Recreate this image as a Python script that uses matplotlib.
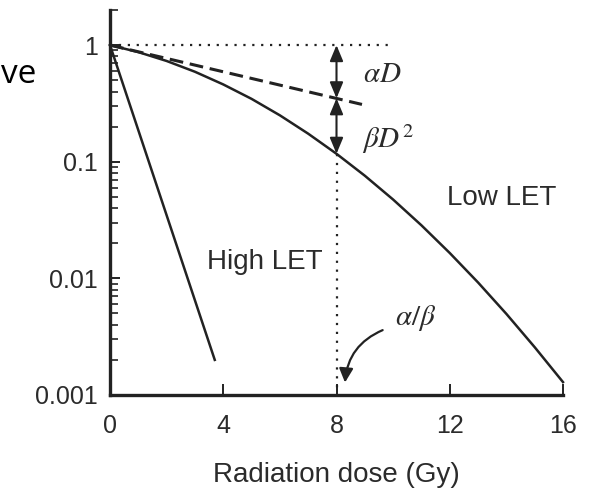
import numpy as np
import matplotlib
matplotlib.use("Agg")
import matplotlib.pyplot as plt
from matplotlib.ticker import FixedLocator, NullFormatter, LogLocator

plt.rcParams['font.family'] = ['Liberation Sans', 'DejaVu Sans']
plt.rcParams['mathtext.fontset'] = 'stix'

# survival curves (dose in Gy, surviving fraction)
dose_low = [0, 1, 2, 3, 4, 5, 6, 7, 8, 9, 10, 11, 12, 13, 14, 15, 16]
surv_low = [1.0, 0.871, 0.731, 0.591, 0.460, 0.346, 0.250, 0.174, 0.117,
            0.0759, 0.0474, 0.0285, 0.0165, 0.00922, 0.00496, 0.00257, 0.00129]

dose_high = [0, 3.7]
surv_high = [1.0, 0.002]

# initial slope (alpha component only)
dose_alpha = [0, 8.9]
surv_alpha = [1.0, 0.31]

# reference dose where alpha*D == beta*D^2
d_ref = 8
s_alpha_ref = 0.35
s_ref = 0.117
s_top = 1.0
s_bottom = 0.001
d_top_end = 9.9

xticks = [0, 4, 8, 12, 16]
yticks = [0.001, 0.01, 0.1, 1]
ylabels = ['0.001', '0.01', '0.1', '1']

ink = '#222222'
txt = '#2b2b2b'

fig = plt.figure(figsize=(5.98, 4.96), dpi=100)
ax = fig.add_axes([110/598, 1-395/496, (563-110)/598, (395-10)/496])

ax.plot(dose_low, surv_low, color=ink, lw=1.8, clip_on=False)
ax.plot(dose_high, surv_high, color=ink, lw=1.8, clip_on=False)
ax.plot(dose_alpha, surv_alpha, color=ink, lw=2.2, linestyle=(0, (4.5, 2.2)))
ax.plot([0, d_top_end], [s_top, s_top], color=ink, lw=1.6, linestyle=(0, (1, 3)))
ax.plot([d_ref, d_ref], [s_ref, s_bottom], color=ink, lw=1.6, linestyle=(0, (1, 3)))

arr = dict(arrowstyle='<|-|>,head_length=0.6,head_width=0.25', color=ink,
           lw=1.5, mutation_scale=16, shrinkA=0, shrinkB=0)
ax.annotate('', xy=(d_ref, s_top), xytext=(d_ref, s_alpha_ref), arrowprops=arr)
ax.annotate('', xy=(d_ref, s_alpha_ref), xytext=(d_ref, s_ref), arrowprops=arr)

ax.annotate('', xy=(8.3, 0.00128), xytext=(9.63, 0.0036),
            arrowprops=dict(arrowstyle='-|>,head_length=0.6,head_width=0.3',
                            color=ink, lw=1.6, mutation_scale=14,
                            shrinkA=0, shrinkB=0,
                            connectionstyle='arc3,rad=0.3'))

ax.text(8.95, 0.57, r'$\alpha D$', fontsize=21, color=txt, va='center', ha='left')
ax.text(8.9, 0.155, r'$\beta D^2$', fontsize=21, color=txt, va='center', ha='left')
ax.text(10.05, 0.0046, r'$\alpha/\beta$', fontsize=21, color=txt, va='center', ha='left')
ax.text(11.9, 0.049, 'Low LET', fontsize=20, color=txt, va='center', ha='left')
ax.text(3.43, 0.0138, 'High LET', fontsize=20, color=txt, va='center', ha='left')

ax.set_yscale('log')
ax.set_xlim(0, 16)
ax.set_ylim(0.001, 2.0)
ax.set_xticks(xticks)
ax.set_xticklabels([str(t) for t in xticks])
ax.yaxis.set_major_locator(FixedLocator(yticks))
ax.set_yticklabels(ylabels)
ax.yaxis.set_minor_locator(LogLocator(base=10, subs=np.arange(2, 10)))
ax.yaxis.set_minor_formatter(NullFormatter())

ax.tick_params(axis='x', direction='in', length=8, width=1.4, color=ink,
               labelsize=18, labelcolor=txt, pad=14)
ax.tick_params(axis='y', which='major', direction='in', length=7, width=1.4,
               color=ink, labelsize=18, labelcolor=txt, pad=9)
ax.tick_params(axis='y', which='minor', direction='in', length=6, width=1.2,
               color=ink)

for s in ['top', 'right']:
    ax.spines[s].set_visible(False)
for s in ['left', 'bottom']:
    ax.spines[s].set_linewidth(2.4)
    ax.spines[s].set_color(ink)

ax.set_xlabel('Radiation dose (Gy)', fontsize=20, color=txt, labelpad=17)

# leftover text from the slide edge
fig.text(1/598, 1-83/496, 've', fontsize=24, family=['Open Sans', 'DejaVu Sans'],
         color='black', ha='left', va='baseline')

fig.savefig('out.png', dpi=100)
